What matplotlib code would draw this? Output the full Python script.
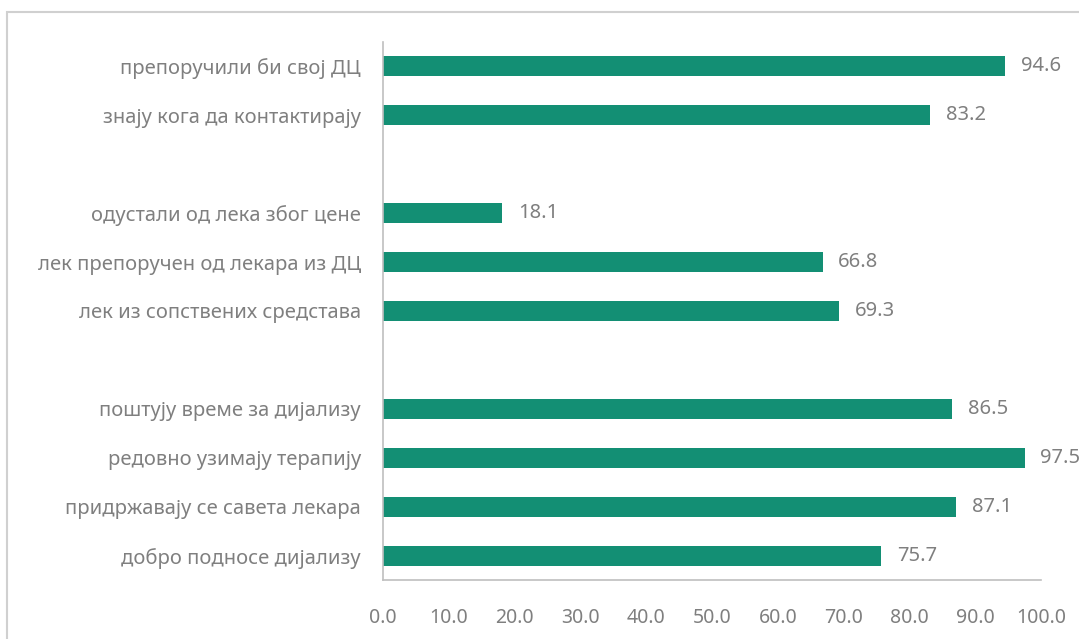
import matplotlib.pyplot as plt
from matplotlib.patches import Rectangle

plt.rcParams['font.family'] = ['Noto Sans', 'DejaVu Sans']

# top to bottom, None = empty slot between groups
labels = ['препоручили би свој ДЦ', 'знају кога да контактирају', None,
          'одустали од лека због цене', 'лек препоручен од лекара из ДЦ',
          'лек из сопствених средстава', None,
          'поштују време за дијализу', 'редовно узимају терапију',
          'придржавају се савета лекара', 'добро подносе дијализу']
values = [94.6, 83.2, None, 18.1, 66.8, 69.3, None, 86.5, 97.5, 87.1, 75.7]
xticks = [0, 10, 20, 30, 40, 50, 60, 70, 80, 90, 100]

bar_color = '#138f74'
text_color = '#7f7f7f'
axis_color = '#bfbfbf'

fig = plt.figure(figsize=(10.79, 6.39), dpi=100)
W, H = 1079, 639
ax = fig.add_axes([383 / W, 1 - 580 / H, (1041 - 383) / W, (580 - 42) / H])

n = len(labels)
ypos = list(range(n))
for y, v in zip(ypos, values):
    if v is None:
        continue
    ax.barh(y, v, height=0.41, color=bar_color)
    ax.text(v + 2.4, y, f'{v:.1f}', va='center', ha='left',
            fontsize=14.5, color=text_color)

ax.set_ylim(n - 0.5, -0.5)
ax.set_yticks([y for y, l in zip(ypos, labels) if l is not None])
ax.set_yticklabels([l for l in labels if l is not None], fontsize=14.5, color=text_color)
ax.set_xlim(0, 100)
ax.set_xticks(xticks)
ax.set_xticklabels([f'{t:.1f}' for t in xticks], fontsize=14, color=text_color)
ax.tick_params(length=0, axis='y', pad=16)
ax.tick_params(length=0, axis='x', pad=20)
for s in ['top', 'right']:
    ax.spines[s].set_visible(False)
for s in ['left', 'bottom']:
    ax.spines[s].set_color(axis_color)
    ax.spines[s].set_linewidth(1.2)

# outer chart frame (cut off at right and bottom)
fig.patches.append(Rectangle((7 / W, -0.05), 1.1, 1 - 12 / H + 0.05,
                             transform=fig.transFigure, fill=False,
                             edgecolor='#d0d0d0', linewidth=1.5))

fig.savefig('out.png', dpi=100)
